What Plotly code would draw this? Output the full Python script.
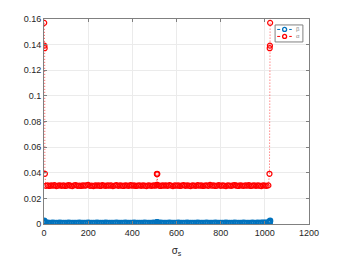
import plotly.graph_objects as go

# ---- data ----
edge_left_x = [1, 2, 3, 4]
edge_right_x = [1021, 1022, 1023, 1024]
center_x = [510, 511, 512, 513, 514]

red_edge_left = [0.1570, 0.1392, 0.1372, 0.0392]
red_edge_right = [0.0392, 0.1372, 0.1392, 0.1570]
red_center = [0.0305, 0.0390, 0.0392, 0.0390, 0.0305]
red_left = [0.0298, 0.0302, 0.0297, 0.0301, 0.0299, 0.0303, 0.0296, 0.0300, 0.0302, 0.0298,
            0.0301, 0.0297, 0.0300, 0.0304, 0.0299, 0.0296, 0.0301, 0.0303, 0.0298, 0.0300,
            0.0297, 0.0302, 0.0299, 0.0301, 0.0305, 0.0298, 0.0300, 0.0296, 0.0302, 0.0299,
            0.0301, 0.0297, 0.0303, 0.0300, 0.0298, 0.0302, 0.0299, 0.0301, 0.0296, 0.0300,
            0.0303, 0.0298, 0.0301, 0.0299, 0.0297, 0.0302, 0.0300, 0.0298, 0.0304, 0.0299,
            0.0301, 0.0297, 0.0300, 0.0302, 0.0298, 0.0301, 0.0299, 0.0296, 0.0302, 0.0300,
            0.0298, 0.0301, 0.0299]
red_right = [0.0300, 0.0297, 0.0302, 0.0299, 0.0301, 0.0298, 0.0303, 0.0300, 0.0296, 0.0301,
             0.0299, 0.0302, 0.0297, 0.0300, 0.0304, 0.0298, 0.0301, 0.0299, 0.0296, 0.0302,
             0.0300, 0.0298, 0.0303, 0.0299, 0.0301, 0.0297, 0.0300, 0.0302, 0.0298, 0.0305,
             0.0299, 0.0301, 0.0297, 0.0300, 0.0303, 0.0298, 0.0301, 0.0299, 0.0296, 0.0302,
             0.0300, 0.0298, 0.0301, 0.0304, 0.0299, 0.0297, 0.0302, 0.0300, 0.0298, 0.0301,
             0.0299, 0.0303, 0.0297, 0.0300, 0.0302, 0.0298, 0.0301, 0.0299, 0.0296, 0.0302,
             0.0300, 0.0298, 0.0301]

blue_edge_left = [0.0025, 0.0019, 0.0015, 0.0013]
blue_edge_right = [0.0013, 0.0016, 0.0020, 0.0025]
blue_center = [0.0010, 0.0012, 0.0013, 0.0012, 0.0010]
blue_left = [0.0011, 0.0010, 0.0009, 0.0009, 0.0010, 0.0009, 0.0008, 0.0009, 0.0010, 0.0009,
             0.0009, 0.0008, 0.0009, 0.0010, 0.0009, 0.0009, 0.0008, 0.0009, 0.0009, 0.0010,
             0.0009, 0.0008, 0.0009, 0.0009, 0.0010, 0.0009, 0.0009, 0.0008, 0.0009, 0.0010,
             0.0009, 0.0009, 0.0008, 0.0009, 0.0010, 0.0009, 0.0009, 0.0008, 0.0009, 0.0009,
             0.0010, 0.0009, 0.0008, 0.0009, 0.0009, 0.0010, 0.0009, 0.0009, 0.0008, 0.0009,
             0.0010, 0.0009, 0.0009, 0.0008, 0.0009, 0.0009, 0.0010, 0.0009, 0.0008, 0.0009,
             0.0009, 0.0010, 0.0009]
blue_right = [0.0009, 0.0010, 0.0009, 0.0008, 0.0009, 0.0009, 0.0010, 0.0009, 0.0008, 0.0009,
              0.0009, 0.0010, 0.0009, 0.0009, 0.0008, 0.0009, 0.0010, 0.0009, 0.0009, 0.0008,
              0.0009, 0.0009, 0.0010, 0.0009, 0.0008, 0.0009, 0.0009, 0.0010, 0.0009, 0.0009,
              0.0008, 0.0009, 0.0010, 0.0009, 0.0009, 0.0008, 0.0009, 0.0009, 0.0010, 0.0009,
              0.0008, 0.0009, 0.0009, 0.0010, 0.0009, 0.0009, 0.0008, 0.0009, 0.0010, 0.0009,
              0.0009, 0.0008, 0.0009, 0.0010, 0.0009, 0.0009, 0.0010, 0.0009, 0.0010, 0.0010,
              0.0011, 0.0011, 0.0012]

series_names = ["β", "α"]

x_left = list(range(8, 8 + 8 * len(red_left), 8))
x_right = list(range(520, 520 + 8 * len(red_right), 8))

x_all = edge_left_x + x_left + center_x + x_right + edge_right_x
red_y = red_edge_left + red_left + red_center + red_right + red_edge_right
blue_y = blue_edge_left + blue_left + blue_center + blue_right + blue_edge_right

x_ticks = [0, 200, 400, 600, 800, 1000, 1200]
y_ticks = [0, 0.02, 0.04, 0.06, 0.08, 0.1, 0.12, 0.14, 0.16]
y_tick_text = ["0", "0.02", "0.04", "0.06", "0.08", "0.1", "0.12", "0.14", "0.16"]

BLUE = "#0072BD"
RED = "#FF0000"
AX = "#808080"
TXT = "#262626"
FONT = "Liberation Sans, Arial, sans-serif"

fig = go.Figure()
fig.add_trace(go.Scatter(
    x=x_all, y=blue_y, mode="lines+markers", name=series_names[0], showlegend=False,
    line=dict(color=BLUE, width=0.7, dash="1px,2px"),
    marker=dict(symbol="circle-open", size=5, color=BLUE, line=dict(width=1.4, color=BLUE)),
))
fig.add_trace(go.Scatter(
    x=x_all, y=red_y, mode="lines+markers", name=series_names[1], showlegend=False,
    line=dict(color=RED, width=0.7, dash="1px,2px"),
    marker=dict(symbol="circle-open", size=5, color=RED, line=dict(width=1.2, color=RED)),
))

axis_common = dict(
    showgrid=True, gridcolor="#EBEBEB", gridwidth=1,
    showline=True, linecolor=AX, linewidth=1, mirror="ticks",
    ticks="inside", ticklen=3, tickcolor=AX,
    zeroline=False, automargin=False,
    tickfont=dict(family=FONT, size=9, color=TXT),
)

# ---- compact legend drawn in the top-right corner (paper coords of plot area) ----
shapes = [
    dict(type="rect", xref="paper", yref="paper", x0=0.872, x1=0.977, y0=0.888, y1=0.971,
         line=dict(color=AX, width=1), fillcolor="white", layer="above"),
]
annotations = []
legend_rows = [(0.949, BLUE, series_names[0]), (0.915, RED, series_names[1])]
for yy, col, name in legend_rows:
    shapes.append(dict(type="line", xref="paper", yref="paper", x0=0.880, x1=0.935, y0=yy, y1=yy,
                       line=dict(color=col, width=1, dash="dot"), layer="above"))
    shapes.append(dict(type="circle", xref="paper", yref="paper",
                       x0=0.908 - 0.0075, x1=0.908 + 0.0075, y0=yy - 0.0098, y1=yy + 0.0098,
                       line=dict(color=col, width=1.3), fillcolor="white", layer="above"))
    annotations.append(dict(xref="paper", yref="paper", x=0.943, y=yy, xanchor="left", yanchor="middle",
                            text=name, showarrow=False, font=dict(family=FONT, size=6, color="#888888")))

# page body adds an 8px offset; the figure is sized to fit the 342x257 window
fig.update_layout(
    width=334, height=249,
    margin=dict(l=36, r=33, t=11, b=33),
    paper_bgcolor="white", plot_bgcolor="white",
    showlegend=False,
    shapes=shapes,
    annotations=annotations,
    xaxis=dict(range=[0, 1200], tickvals=x_ticks, **axis_common,
               title=dict(text="σ<sub>s</sub>", standoff=13,
                          font=dict(family=FONT, size=10, color=TXT))),
    yaxis=dict(range=[0, 0.16], tickvals=y_ticks, ticktext=y_tick_text, **axis_common),
)

fig.write_html("out.html")
